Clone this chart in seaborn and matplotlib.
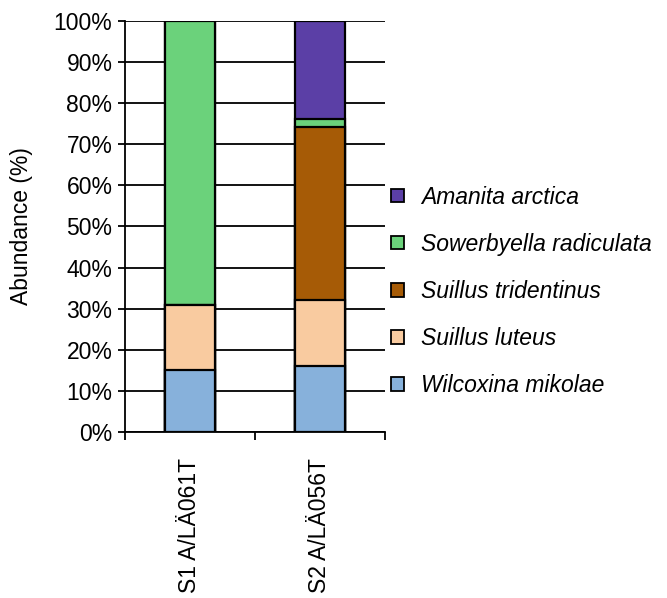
import numpy as np
import pandas as pd
import matplotlib
matplotlib.use("Agg")
import matplotlib.pyplot as plt
from matplotlib.patches import Patch
import seaborn as sns

samples = ["S1 A/LÄ061T", "S2 A/LÄ056T"]
species = ["Wilcoxina mikolae", "Suillus luteus", "Suillus tridentinus",
           "Sowerbyella radiculata", "Amanita arctica"]
wilcoxina = [15.1, 16.1]
luteus = [15.8, 16.0]
tridentinus = [0.0, 42.1]
sowerbyella = [69.1, 1.9]
amanita = [0.0, 23.9]
colors = ["#87b1db", "#f9cba0", "#a65b06", "#6bd27b", "#5b3fa6"]

sns.set_style("white")
plt.rcParams["font.family"] = ["Liberation Sans", "DejaVu Sans"]
plt.rcParams["text.color"] = "black"
plt.rcParams["axes.labelcolor"] = "black"
plt.rcParams["xtick.color"] = "black"
plt.rcParams["ytick.color"] = "black"

FS = 16.5

values = np.array([wilcoxina, luteus, tridentinus, sowerbyella, amanita])
tops = np.cumsum(values, axis=0)

fig = plt.figure(figsize=(6.67, 5.98), dpi=100)
ax = fig.add_axes([0.1874, 0.2776, 0.3898, 0.6873])

# draw cumulative bars from the top segment down so they stack
for i in range(len(species) - 1, -1, -1):
    df = pd.DataFrame({"sample": samples, "top": tops[i]})
    sns.barplot(data=df, x="sample", y="top", color=colors[i], width=0.39,
                edgecolor="black", linewidth=1.6, saturation=1, ax=ax)

ax.set_ylim(0, 100)
ax.set_xlim(-0.5, 1.5)
ax.set_yticks(np.arange(0, 101, 10))
ax.set_yticklabels([f"{v}%" for v in range(0, 101, 10)], fontsize=FS)
ax.set_xticks([0, 1])
ax.set_xticklabels(samples, rotation=90, fontsize=FS)
ax.set_xticks([-0.5, 0.5, 1.5], minor=True)
ax.tick_params(axis="x", which="major", bottom=True, length=0, pad=19)
ax.tick_params(axis="x", which="minor", bottom=True, length=6, width=1.3, direction="out", color="black")
ax.tick_params(axis="y", left=True, length=5, width=1.3, direction="out", color="black", pad=4)
ax.set_xlabel("")
ax.set_ylabel("Abundance (%)", fontsize=FS, labelpad=15)

ax.set_axisbelow(True)
ax.yaxis.grid(True, color="black", linewidth=1.3)
for s in ["top", "right"]:
    ax.spines[s].set_visible(False)
for s in ["left", "bottom"]:
    ax.spines[s].set_color("black")
    ax.spines[s].set_linewidth(1.3)

handles = [Patch(facecolor=colors[i], edgecolor="black", linewidth=1.3, label=species[i])
           for i in range(len(species) - 1, -1, -1)]
leg = fig.legend(handles=handles, loc="center left", bbox_to_anchor=(0.573, 0.513),
                 frameon=False, prop={"style": "italic", "size": FS},
                 handlelength=0.55, handleheight=0.55, handletextpad=0.75,
                 labelspacing=1.05, borderaxespad=0)

fig.savefig("out.png", dpi=100)
